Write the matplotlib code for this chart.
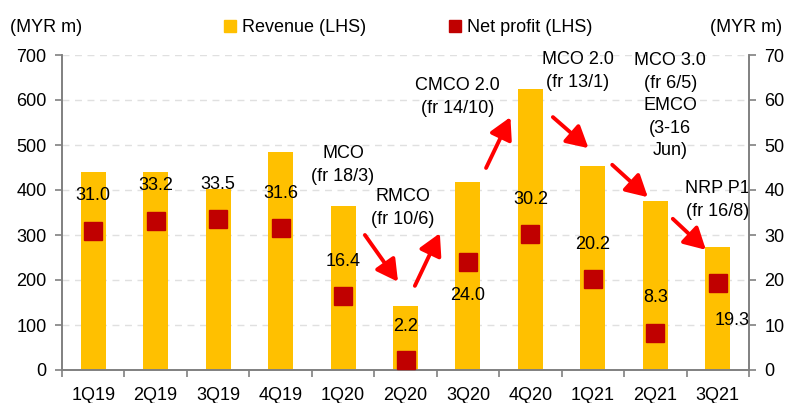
import matplotlib.pyplot as plt
from matplotlib.lines import Line2D

plt.rcParams.update({
    "font.family": ["Liberation Sans", "DejaVu Sans"],
    "font.size": 13,
})

quarters = ["1Q19", "2Q19", "3Q19", "4Q19", "1Q20", "2Q20",
            "3Q20", "4Q20", "1Q21", "2Q21", "3Q21"]
revenue = [440, 440, 402, 484, 365, 142, 418, 624, 453, 375, 273]
net_profit = [31.0, 33.2, 33.5, 31.6, 16.4, 2.2, 24.0, 30.2, 20.2, 8.3, 19.3]

# label offsets (points) for the net profit values
label_offsets = [(0, 25), (0, 25), (0, 25), (0, 25), (0, 25), (0, 24),
                 (0, -24), (0, 25), (0, 25), (0, 25), (10, -27)]

# event notes: text, text pos, arrow start, arrow end (x idx, LHS units)
events = [
    ("MCO\n(fr 18/3)", (4.0, 456), (4.35, 300), (4.88, 196)),
    ("RMCO\n(fr 10/6)", (4.96, 360), (5.15, 187), (5.55, 304)),
    ("CMCO 2.0\n(fr 14/10)", (5.83, 607), (6.29, 449), (6.68, 562)),
    ("MCO 2.0\n(fr 13/1)", (7.76, 664), (7.36, 562), (7.93, 493)),
    ("MCO 3.0\n(fr 6/5)\nEMCO\n(3-16\nJun)", (9.24, 587), (8.31, 456), (8.88, 384)),
    ("NRP P1\n(fr 16/8)", (10.0, 378), (9.28, 336), (9.81, 267)),
]

yellow = "#FFC000"
red = "#C00000"
axis_grey = "#808080"

fig = plt.figure(figsize=(7.87, 4.03), dpi=100)
ax = fig.add_axes([62 / 787, 1 - 370 / 403, 687 / 787, 315 / 403])
ax2 = ax.twinx()

x = list(range(len(quarters)))
ax.bar(x, revenue, width=0.4, color=yellow, zorder=2)
ax.set_xlim(-0.5, len(quarters) - 0.5)
ax.set_ylim(0, 700)
ax.set_yticks(range(0, 701, 100))
ax.grid(axis="y", color="#E0E0E0", linestyle=(0, (5, 4)), linewidth=1, zorder=0)
ax.set_axisbelow(True)

ax2.plot(x, net_profit, linestyle="none", marker="s", markersize=13.5,
         color=red, zorder=3)
ax2.set_ylim(0, 70)
ax2.set_yticks(range(0, 71, 10))

for i, v in enumerate(net_profit):
    ax2.annotate(f"{v:.1f}", (i, v), xytext=label_offsets[i],
                 textcoords="offset points", ha="center", va="center",
                 fontsize=13)

for text, tpos, a0, a1 in events:
    ax.text(tpos[0], tpos[1], text, ha="center", va="center", fontsize=13,
            linespacing=1.42, zorder=5)
    ax.annotate("", xy=a1, xytext=a0,
                arrowprops=dict(arrowstyle="-|>,head_length=1.0,head_width=0.55",
                                color="#FF0000", lw=2.8, shrinkA=0, shrinkB=0))

# x axis: category labels centred, ticks at boundaries
ax.set_xticks(x)
ax.set_xticklabels(quarters)
ax.tick_params(axis="x", length=0, pad=12)
ax.set_xticks([i - 0.5 for i in range(len(quarters) + 1)], minor=True)
ax.tick_params(axis="x", which="minor", length=5, color=axis_grey, width=1.2)

for a in (ax, ax2):
    a.spines["top"].set_visible(False)
    for s in ("left", "right", "bottom"):
        a.spines[s].set_color(axis_grey)
        a.spines[s].set_linewidth(1.2)
ax.tick_params(axis="y", length=5, color=axis_grey, width=1.2, pad=6)
ax2.tick_params(axis="y", length=5, color=axis_grey, width=1.2, pad=6)

fig.text(10 / 787, 1 - 28 / 403, "(MYR m)", ha="left", va="center", fontsize=13)
fig.text(782 / 787, 1 - 28 / 403, "(MYR m)", ha="right", va="center", fontsize=13)

handles = [
    Line2D([], [], linestyle="none", marker="s", markersize=8, color=yellow),
    Line2D([], [], linestyle="none", marker="s", markersize=8, color=red),
]
fig.legend(handles, ["Revenue (LHS)", "Net profit (LHS)"], ncol=2,
           loc="center", bbox_to_anchor=(408 / 787, 1 - 28 / 403),
           frameon=False, fontsize=13, handlelength=0.7, handletextpad=0.3,
           columnspacing=4.6, borderpad=0)

fig.savefig("out.png", dpi=100)
